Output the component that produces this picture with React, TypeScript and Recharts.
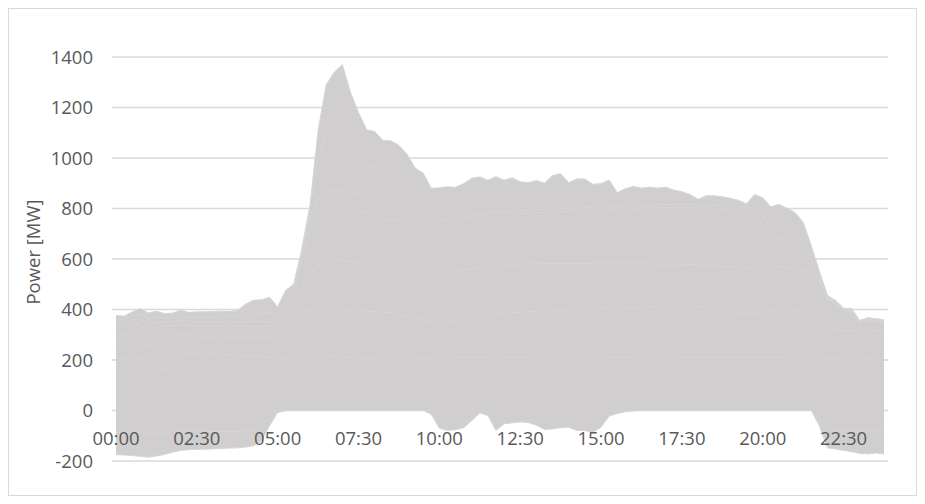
import React from "react";
import { AreaChart, Area, XAxis, YAxis, CartesianGrid } from "recharts";

// quarter-hour categories for one day
const times = [
  "00:00", "00:15", "00:30", "00:45", "01:00", "01:15", "01:30", "01:45",
  "02:00", "02:15", "02:30", "02:45", "03:00", "03:15", "03:30", "03:45",
  "04:00", "04:15", "04:30", "04:45", "05:00", "05:15", "05:30", "05:45",
  "06:00", "06:15", "06:30", "06:45", "07:00", "07:15", "07:30", "07:45",
  "08:00", "08:15", "08:30", "08:45", "09:00", "09:15", "09:30", "09:45",
  "10:00", "10:15", "10:30", "10:45", "11:00", "11:15", "11:30", "11:45",
  "12:00", "12:15", "12:30", "12:45", "13:00", "13:15", "13:30", "13:45",
  "14:00", "14:15", "14:30", "14:45", "15:00", "15:15", "15:30", "15:45",
  "16:00", "16:15", "16:30", "16:45", "17:00", "17:15", "17:30", "17:45",
  "18:00", "18:15", "18:30", "18:45", "19:00", "19:15", "19:30", "19:45",
  "20:00", "20:15", "20:30", "20:45", "21:00", "21:15", "21:30", "21:45",
  "22:00", "22:15", "22:30", "22:45", "23:00", "23:15", "23:30", "23:45",
];

const yTicks = [-200, 0, 200, 400, 600, 800, 1000, 1200, 1400];

// positive layers, bottom to top (MW)
const s1 = [
  198, 205, 210, 205, 195, 185, 152, 220, 228, 230,
  230, 228, 226, 224, 222, 220, 218, 215, 214, 210,
  208, 205, 205, 210, 215, 218, 218, 215, 213, 210,
  208, 207, 206, 206, 205, 205, 205, 206, 207, 208,
  208, 209, 210, 210, 211, 211, 212, 212, 212, 211,
  210, 210, 209, 209, 208, 208, 208, 208, 209, 209,
  210, 210, 211, 211, 212, 212, 212, 212, 212, 212,
  212, 211, 211, 210, 210, 210, 210, 210, 210, 210,
  210, 210, 210, 210, 209, 209, 208, 208, 207, 207,
  206, 206, 205, 205, 205, 205,
];
const s2 = [
  92, 95, 95, 85, 57, 92, 138, 80, 74, 68,
  65, 65, 66, 67, 68, 70, 72, 74, 76, 80,
  87, 115, 175, 186, 183, 184, 185, 185, 185, 186,
  188, 187, 186, 184, 183, 175, 167, 159, 151, 144,
  142, 143, 146, 152, 159, 165, 168, 172, 174, 177,
  180, 182, 185, 186, 188, 189, 190, 192, 193, 195,
  195, 196, 196, 197, 197, 198, 200, 202, 203, 204,
  204, 204, 202, 200, 195, 188, 182, 176, 174, 176,
  180, 184, 186, 186, 186, 181, 167, 142, 123, 115,
  112, 111, 111, 111, 113, 113,
];
const s3 = [
  40, 35, 40, 50, 68, 53, 45, 38, 38, 40,
  41, 42, 42, 42, 42, 42, 43, 45, 44, 45,
  45, 60, 50, 84, 142, 173, 187, 195, 196, 194,
  191, 171, 156, 150, 148, 152, 156, 157, 165, 178,
  190, 194, 197, 196, 192, 190, 188, 187, 188, 189,
  190, 189, 188, 188, 187, 186, 185, 183, 181, 178,
  177, 175, 174, 173, 172, 171, 169, 166, 165, 164,
  164, 164, 165, 166, 169, 174, 178, 182, 182, 174,
  132, 166, 177, 172, 165, 164, 175, 165, 110, 103,
  77, 76, 30, 41, 35, 31,
];
const s4 = [
  15, 13, 15, 20, 25, 20, 17, 16, 16, 16,
  16, 17, 18, 19, 19, 19, 19, 19, 19, 17,
  15, 20, 40, 120, 180, 195, 195, 195, 198, 190,
  198, 225, 227, 220, 216, 220, 220, 213, 197, 189,
  182, 194, 197, 197, 203, 209, 210, 208, 205, 203,
  201, 202, 203, 203, 205, 206, 207, 208, 210, 213,
  214, 216, 217, 218, 219, 221, 223, 225, 225, 226,
  226, 226, 226, 227, 228, 229, 230, 232, 229, 220,
  218, 130, 107, 108, 110, 71, 10, 10, 5, 3,
  3, 3, 3, 3, 3, 3,
];
const s5 = [
  15, 12, 15, 20, 20, 20, 16, 14, 16, 16,
  18, 18, 19, 20, 21, 22, 26, 32, 35, 38,
  17, 20, 20, 30, 50, 70, 80, 80, 79, 80,
  77, 50, 75, 120, 143, 130, 110, 85, 70, 51,
  33, 12, 12, 13, 11, 10, 10, 10, 11, 11,
  11, 11, 11, 11, 11, 11, 11, 11, 11, 11,
  11, 11, 11, 11, 11, 11, 11, 11, 12, 11,
  11, 11, 11, 11, 11, 11, 11, 10, 13, 20,
  30, 40, 42, 40, 42, 40, 40, 10, 5, 4,
  3, 3, 3, 3, 3, 3,
];
const s6 = [
  16, 13, 15, 23, 21, 22, 16, 17, 25, 18,
  20, 20, 21, 21, 20, 22, 42, 51, 50, 58,
  38, 55, 10, 10, 40, 160, 235, 260, 265, 200,
  138, 120, 120, 110, 105, 98, 82, 70, 70, 60,
  45, 38, 28, 42, 54, 65, 72, 96, 105, 124,
  113, 108, 114, 103, 131, 137, 101, 115, 112, 89,
  91, 104, 53, 68, 76, 67, 69, 64, 67, 55,
  49, 39, 21, 36, 37, 34, 29, 22, 10, 55,
  72, 76, 94, 84, 71, 80, 51, 15, 5, 4,
  4, 4, 4, 4, 4, 4,
];
const s7 = [
  0, 0, 0, 0, 0, 0, 0, 0, 0, 0,
  0, 0, 0, 0, 0, 0, 0, 0, 0, 0,
  0, 0, 0, 0, 0, 110, 190, 210, 234, 200,
  180, 152, 135, 80, 68, 70, 75, 70, 80, 50,
  82, 96, 94, 88, 90, 75, 52, 41, 17, 7,
  0, 0, 0, 0, 0, 0, 0, 0, 0, 0,
  0, 0, 0, 0, 0, 0, 0, 0, 0, 0,
  0, 0, 0, 0, 0, 0, 0, 0, 0, 0,
  0, 0, 0, 0, 0, 0, 0, 0, 0, 0,
  0, 0, 0, 0, 0, 0,
];

// negative layers (MW)
const n1 = [
  -88, -88, -87, -87, -86, -86, -86, -85, -85, -85,
  -85, -85, -84, -84, -84, -84, -83, -80, -70, -40,
  -8, 0, 0, 0, 0, 0, 0, 0, 0, 0,
  0, 0, 0, 0, 0, 0, 0, 0, 0, 0,
  0, 0, 0, 0, 0, 0, 0, 0, 0, 0,
  0, 0, 0, 0, 0, 0, 0, 0, 0, 0,
  0, 0, 0, 0, 0, 0, 0, 0, 0, 0,
  0, 0, 0, 0, 0, 0, 0, 0, 0, 0,
  0, 0, 0, 0, 0, 0, 0, -40, -80, -80,
  -80, -80, -80, -80, -80, -80,
];
const n2 = [
  -87, -88, -91, -95, -99, -94, -88, -80, -73, -70,
  -69, -68, -68, -66, -65, -64, -62, -60, -50, -20,
  0, 0, 0, 0, 0, 0, 0, 0, 0, 0,
  0, 0, 0, 0, 0, 0, 0, 0, 0, -15,
  -70, -79, -76, -68, -40, -10, -20, -79, -53, -49,
  -45, -48, -58, -75, -73, -68, -66, -79, -80, -86,
  -66, -22, -12, -5, -2, 0, 0, 0, 0, 0,
  0, 0, 0, 0, 0, 0, 0, 0, 0, 0,
  0, 0, 0, 0, 0, 0, 0, -20, -68, -72,
  -78, -83, -90, -92, -88, -92,
];

const posKeys = ["s1", "s2", "s3", "s4", "s5", "s6", "s7"];
const negKeys = ["n1", "n2"];
const seriesKeys = [...posKeys, ...negKeys];
const seriesValues = [s1, s2, s3, s4, s5, s6, s7, n1, n2];

const data = times.map((t, i) => {
  const row: Record<string, string | number> = { time: t };
  seriesKeys.forEach((k, j) => {
    row[k] = seriesValues[j][i];
  });
  return row;
});

const FILL = "#d0cecf";
const LINE = "#d7d6d7";
const TEXT = "#595959";
const FONT = "'Open Sans', 'Noto Sans', sans-serif";

const TimeTick = ({ x, y, payload }: any) => (
  <text x={x} y={y - 16} textAnchor="middle" fill={TEXT} fontSize={18.5} fontFamily={FONT}>
    {payload.value}
  </text>
);

const YTitle = ({ viewBox }: any) => {
  const cx = viewBox.x + 0.5;
  const cy = viewBox.y + viewBox.height / 2 - 7;
  return (
    <text
      x={cx}
      y={cy}
      transform={`rotate(-90 ${cx} ${cy})`}
      textAnchor="middle"
      dominantBaseline="central"
      fill={TEXT}
      fontSize={18.5}
      fontFamily={FONT}
    >
      Power [MW]
    </text>
  );
};

const renderArea = (k: string, stackId: string) => (
  <Area
    key={k}
    type="linear"
    dataKey={k}
    stackId={stackId}
    fill={FILL}
    fillOpacity={1}
    stroke={LINE}
    strokeWidth={1}
    dot={false}
    activeDot={false}
    isAnimationActive={false}
  />
);

export default function App() {
  return (
    <div
      style={{
        width: 909,
        height: 488,
        boxSizing: "border-box",
        border: "1px solid #d9d9d9",
        fontFamily: FONT,
      }}
    >
      <AreaChart
        width={907}
        height={486}
        data={data}
        margin={{ top: 48, right: 28, bottom: 4, left: 23 }}
      >
        <CartesianGrid vertical={false} stroke="#d9d9d9" strokeWidth={1.5} />
        {posKeys.map((k) => renderArea(k, "pos"))}
        {negKeys.map((k) => renderArea(k, "neg"))}
        <XAxis
          dataKey="time"
          interval={9}
          height={30}
          padding={{ left: 4, right: 4 }}
          axisLine={false}
          tickLine={false}
          tickSize={0}
          tickMargin={0}
          tick={<TimeTick />}
        />
        <YAxis
          width={80}
          domain={[-200, 1400]}
          ticks={yTicks}
          allowDataOverflow
          axisLine={false}
          tickLine={false}
          tickSize={0}
          tickMargin={19}
          tick={{ fill: TEXT, fontSize: 18.5, fontFamily: FONT }}
          label={<YTitle />}
        />
      </AreaChart>
    </div>
  );
}
